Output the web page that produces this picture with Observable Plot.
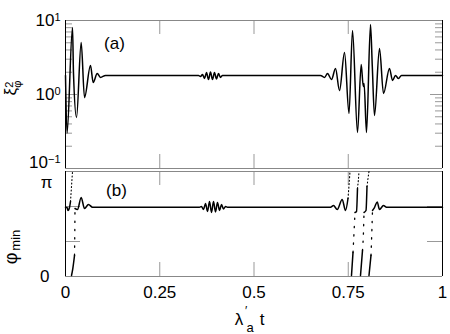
<!DOCTYPE html>
<html><head><meta charset="utf-8">
<script src="https://cdn.jsdelivr.net/npm/d3@7"></script>
<script src="https://cdn.jsdelivr.net/npm/@observablehq/plot@0.6"></script>
<style>
body{margin:0;background:#fff;}
#chart{width:450px;height:334px;}
#chart svg{display:block;font-family:"Liberation Sans",Arial,sans-serif;}
</style></head><body><div id="chart"></div>
<script>
// ---- panel (a): xi^2_phi (log scale) ----
const topX = [0, 0.004, 0.0186, 0.0212, 0.0292, 0.0416, 0.0504, 0.0663, 0.0735, 0.0841, 0.0928, 0.1061,
  0.3528, 0.3581, 0.3634, 0.3687, 0.374, 0.3793, 0.3846, 0.3899, 0.3952, 0.4005, 0.4058, 0.4111, 0.4164,
  0.6764, 0.687, 0.695, 0.7056, 0.7162, 0.7268, 0.7401, 0.752, 0.7613, 0.7745, 0.7843, 0.7899, 0.792, 0.7984,
  0.809, 0.8138, 0.8196, 0.8329, 0.8435, 0.8594, 0.8674, 0.8753, 0.8833, 0.8912, 1];
const topY = [1.81, 0.30, 8.04, 1.92, 0.49, 5.04, 0.91, 2.46, 1.45, 1.92, 1.70, 1.81,
  1.81, 1.75, 1.86, 1.645, 1.98, 1.59, 2.01, 1.59, 1.98, 1.62, 1.92, 1.70, 1.81,
  1.81, 1.70, 1.92, 1.59, 2.25, 1.13, 3.69, 0.554, 7.32, 0.306, 2.54, 1.28, 1.41, 0.306,
  8.83, 2.39, 0.52, 4.18, 1.03, 2.25, 1.55, 1.81, 1.645, 1.81, 1.81];

// ---- panel (b): phi_min (radians, wrapped to [0, pi]) ----
const phiSolidX = [
  [0, 0.0040, 0.0066, 0.0106, 0.0133],
  [0.0159, 0.0194, 0.0239],
  [0.0252, 0.0318, 0.0416, 0.0504, 0.0610, 0.0716, 0.3554, 0.3607, 0.3660, 0.3714, 0.3767, 0.3820, 0.3873, 0.3926, 0.3979, 0.4032, 0.4085, 0.4138, 0.4191, 0.4244, 0.4297, 0.7029, 0.7109, 0.7207, 0.7340, 0.7427, 0.7493],
  [0.7586, 0.7626],
  [0.7679, 0.7719, 0.7745],
  [0.7825, 0.7878],
  [0.7918, 0.7971, 0.7997],
  [0.8050, 0.8103],
  [0.8143, 0.8196, 0.8268, 0.8329, 0.8435, 0.8515, 1]
];
const phiSolidY = [
  [2.073, 2.064, 1.975, 2.064, 2.244],
  [0.030, 0.239, 0.628],
  [2.035, 2.005, 2.364, 2.035, 2.154, 2.073, 2.073, 2.094, 2.005, 2.184, 1.945, 2.244, 1.915, 2.244, 1.930, 2.214, 1.975, 2.154, 2.020, 2.094, 2.073, 2.073, 2.124, 2.005, 2.304, 1.975, 2.334],
  [0.030, 0.718],
  [1.915, 1.945, 2.633],
  [0.030, 0.778],
  [1.915, 1.975, 2.693],
  [0.030, 0.628],
  [1.975, 2.064, 2.229, 2.005, 2.124, 2.073, 2.073]
];
const phiDotX = [
  [0.0133, 0.0159, 0.0186],
  [0.0239, 0.0247, 0.0252],
  [0.7493, 0.7520, 0.7546],
  [0.7626, 0.7653, 0.7679],
  [0.7745, 0.7767, 0.7785],
  [0.7878, 0.7905, 0.7918],
  [0.7997, 0.8024, 0.8050],
  [0.8103, 0.8125, 0.8143]
];
const phiDotY = [
  [2.244, 2.693, 3.1416],
  [0.628, 1.376, 2.035],
  [2.334, 2.723, 3.1416],
  [0.718, 1.316, 1.915],
  [2.633, 2.872, 3.1416],
  [0.778, 1.376, 1.915],
  [2.693, 2.932, 3.1416],
  [0.628, 1.316, 1.975]
];

const xTicks = [0, 0.25, 0.5, 0.75, 1];
const xTickLabels = ["0", "0.25", "0.5", "0.75", "1"];
const yMajorTop = [0.1, 1, 10];
const yMinorTop = [0.2,0.3,0.4,0.5,0.6,0.7,0.8,0.9,2,3,4,5,6,7,8,9];
const yTicksBot = [Math.PI/3, 2*Math.PI/3];

const FONT = '"Liberation Sans", Arial, sans-serif';
const innerW = 377;
const tickC = "#999";

const topData = topX.map((x, i) => ({x, y: topY[i]}));
const flat = (X, Y) => X.flatMap((xs, k) => xs.map((x, i) => ({id: k, up: Y[k][Y[k].length - 1] > 3, x, y: Y[k][i]})));
const solidData = flat(phiSolidX, phiSolidY);
const dotData = flat(phiDotX, phiDotY);
const dotUp = dotData.filter(d => d.up);
const dotLow = dotData.filter(d => !d.up);

const topH = 169, topMT = 20, topMB = 1, innerTop = topH - topMT - topMB;
const topPlot = Plot.plot({
  width: 450, height: topH, marginLeft: 65, marginRight: 8, marginTop: topMT, marginBottom: topMB,
  style: {fontFamily: FONT, fontSize: "17px", background: "white", color: "black", overflow: "visible"},
  x: {domain: [0, 1], axis: null},
  y: {type: "log", domain: [0.1, 10], axis: null},
  marks: [
    Plot.tickY(yMinorTop, {y: d => d, stroke: tickC, insetRight: innerW - 7}),
    Plot.tickY(yMinorTop, {y: d => d, stroke: tickC, insetLeft: innerW - 7}),
    Plot.tickY([1], {y: d => d, stroke: tickC, insetRight: innerW - 12}),
    Plot.tickY([1], {y: d => d, stroke: tickC, insetLeft: innerW - 12}),
    Plot.tickX(xTicks.slice(1, -1), {x: d => d, stroke: tickC, insetBottom: innerTop - 14}),
    Plot.tickX(xTicks.slice(1, -1), {x: d => d, stroke: tickC, insetTop: innerTop - 14}),
    Plot.ruleY([0.1, 10], {y: d => d, stroke: "#888"}),
    Plot.ruleX([0, 1], {x: d => d, stroke: "black"}),
    Plot.line(topData, {x: "x", y: "y", curve: "monotone-x", stroke: "black", strokeWidth: 1.5}),
    Plot.axisY([1, 10], {anchor: "left", label: null, tickSize: 0, tickPadding: 5, fontSize: 17,
      tickFormat: d => "10^" + Math.round(Math.log10(d))}),
    Plot.axisY([0.1], {anchor: "left", label: null, tickSize: 0, tickPadding: 5, fontSize: 17, dy: -6,
      tickFormat: d => "10^" + Math.round(Math.log10(d))}),
    Plot.text(["(a)"], {text: d => d, frameAnchor: "top-left", lineAnchor: "middle", dx: 49, dy: 23, textAnchor: "middle", fontSize: 17})
  ]
});

const botH = 165, botMT = 2, botMB = 58, innerBot = botH - botMT - botMB;
const botPlot = Plot.plot({
  width: 450, height: botH, marginLeft: 65, marginRight: 8, marginTop: botMT, marginBottom: botMB,
  style: {fontFamily: FONT, fontSize: "17px", background: "white", color: "black", overflow: "visible"},
  x: {domain: [0, 1], axis: null},
  y: {domain: [0, Math.PI], axis: null},
  marks: [
    Plot.tickY(yTicksBot, {y: d => d, stroke: tickC, insetRight: innerW - 15}),
    Plot.tickY(yTicksBot, {y: d => d, stroke: tickC, insetLeft: innerW - 15}),
    Plot.tickX(xTicks.slice(1, -1), {x: d => d, stroke: tickC, insetBottom: innerBot - 14}),
    Plot.tickX(xTicks.slice(1, -1), {x: d => d, stroke: tickC, insetTop: innerBot - 14}),
    Plot.ruleY([0, Math.PI], {y: d => d, stroke: "#888"}),
    Plot.ruleX([0, 1], {x: d => d, stroke: "black"}),
    Plot.line(solidData, {x: "x", y: "y", z: "id", curve: "monotone-x", stroke: "black", strokeWidth: 1.5}),
    Plot.line(dotUp, {x: "x", y: "y", z: "id", curve: "monotone-x", stroke: "black", strokeWidth: 1.1, strokeDasharray: "1,2.5"}),
    Plot.line(dotLow, {x: "x", y: "y", z: "id", curve: "monotone-x", stroke: "black", strokeWidth: 1.3, strokeDasharray: "1.3,7"}),
    Plot.axisY([0], {anchor: "left", label: null, tickSize: 0, tickPadding: 16, fontSize: 17, tickFormat: () => "0"}),
    Plot.axisY([Math.PI], {anchor: "left", label: null, tickSize: 0, tickPadding: 13, fontSize: 17, dy: 11, tickFormat: () => "π"}),
    Plot.axisX(xTicks, {anchor: "bottom", label: null, tickSize: 0, tickPadding: 9, fontSize: 17,
      tickFormat: d => xTickLabels[xTicks.indexOf(d)]}),
    Plot.text(["(b)"], {text: d => d, frameAnchor: "top-left", lineAnchor: "middle", dx: 51, dy: 19, textAnchor: "middle", fontSize: 17})
  ]
});

// superscripts on log-axis labels
d3.select(topPlot).selectAll('g[aria-label="y-axis tick label"] text').each(function() {
  const t = d3.select(this);
  const s = t.text();
  if (!s.includes("^")) return;
  const [base, exp] = s.split("^");
  t.text(null);
  t.append("tspan").text(base);
  t.append("tspan").attr("dy", "-0.45em").attr("font-size", 11).text(exp.replace("-", "\u2212"));
});

// axis titles
const ts = d3.select(topPlot);
const yt = ts.append("text").attr("transform", "translate(16,88) rotate(-90)")
  .attr("font-size", 17).attr("fill", "black");
yt.append("tspan").text("ξ");
yt.append("tspan").attr("font-size", 11).attr("dy", -3).text("2");
yt.append("tspan").attr("font-size", 11).attr("dx", -6).attr("dy", 8).text("φ");

const bs = d3.select(botPlot);
const yb = bs.append("text").attr("transform", "translate(17,78) rotate(-90)")
  .attr("font-size", 18).attr("fill", "black");
yb.append("tspan").text("φ");
yb.append("tspan").attr("font-size", 13).attr("dx", 2).attr("dy", 3).text("min");

bs.append("text").attr("x", 239).attr("y", 156).attr("font-size", 17).text("λ");
bs.append("text").attr("x", 246).attr("y", 146).attr("font-size", 12).text("′");
bs.append("text").attr("x", 250).attr("y", 163).attr("font-size", 13).text("a");
bs.append("text").attr("x", 262).attr("y", 156).attr("font-size", 17).text("t");

const root = document.getElementById("chart");
root.appendChild(topPlot);
root.appendChild(botPlot);
</script></body></html>
